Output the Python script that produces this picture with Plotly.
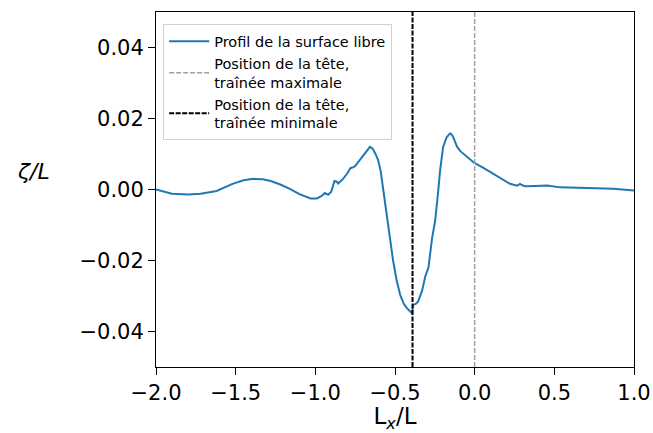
import plotly.graph_objects as go

# free surface profile
lx = [-2.0, -1.95, -1.9, -1.8, -1.72, -1.62, -1.52, -1.45, -1.39, -1.33, -1.28, -1.22,
      -1.16, -1.1, -1.03, -0.99, -0.96, -0.94, -0.92, -0.9, -0.88, -0.865, -0.857,
      -0.84, -0.826, -0.8, -0.78, -0.76, -0.75, -0.73, -0.707, -0.68, -0.657, -0.645,
      -0.638, -0.62, -0.606, -0.59, -0.575, -0.56, -0.544, -0.53, -0.512, -0.49,
      -0.468, -0.445, -0.424, -0.405, -0.393, -0.387, -0.37, -0.355, -0.33, -0.31,
      -0.29, -0.267, -0.248, -0.23, -0.217, -0.198, -0.175, -0.154, -0.145, -0.136,
      -0.11, -0.09, -0.073, -0.04, 0.0, 0.05, 0.115, 0.16, 0.222, 0.266, 0.285,
      0.3, 0.316, 0.38, 0.455, 0.536, 0.64, 0.743, 0.87, 1.0]
zeta = [0.0, -0.0006, -0.0012, -0.0014, -0.0012, -0.0004, 0.0016, 0.0026, 0.003, 0.0029,
        0.0024, 0.0014, 0.0002, -0.0013, -0.0025, -0.0025, -0.0018, -0.001, -0.0015,
        -0.0006, 0.0024, 0.0022, 0.0017, 0.0024, 0.003, 0.0045, 0.006, 0.0063, 0.0066,
        0.0078, 0.0092, 0.0106, 0.012, 0.0117, 0.0113, 0.0098, 0.0083, 0.0052, 0.0007,
        -0.004, -0.0088, -0.0142, -0.02, -0.0255, -0.0296, -0.0322, -0.0335, -0.0343,
        -0.0349, -0.0325, -0.0322, -0.0316, -0.0285, -0.0245, -0.022, -0.0136, -0.0088,
        -0.001, 0.0054, 0.012, 0.0148, 0.0158, 0.0155, 0.0149, 0.012, 0.0108, 0.0102,
        0.009, 0.0074, 0.0062, 0.0045, 0.0033, 0.0016, 0.0011, 0.0016, 0.0012, 0.0009,
        0.001, 0.0011, 0.0006, 0.0005, 0.0004, 0.0002, -0.0003]

pos_max = [0.0, 0.0]
pos_min = [-0.39, -0.39]
y_span = [-0.05, 0.05]

xticks = [-2.0, -1.5, -1.0, -0.5, 0.0, 0.5, 1.0]
xtick_text = ["\u22122.0", "\u22121.5", "\u22121.0", "\u22120.5", "0.0", "0.5", "1.0"]
yticks = [-0.04, -0.02, 0.0, 0.02, 0.04]
ytick_text = ["\u22120.04", "\u22120.02", "0.00", "0.02", "0.04"]

fig = go.Figure()
fig.add_scatter(x=lx, y=zeta, mode="lines", name="Profil de la surface libre",
                line=dict(color="#1f77b4", width=2))
fig.add_scatter(x=pos_max, y=y_span, mode="lines",
                name="Position de la tête,<br>traînée maximale",
                line=dict(color="#a0a0a0", width=1.5, dash="5px,2px"))
fig.add_scatter(x=pos_min, y=y_span, mode="lines",
                name="Position de la tête,<br>traînée minimale",
                line=dict(color="black", width=2, dash="5px,1.5px"))

axis_style = dict(showline=True, linecolor="black", linewidth=1, mirror=True,
                  ticks="outside", ticklen=7, tickcolor="black", showgrid=False,
                  zeroline=False, tickfont=dict(size=21, color="black"))

fig.update_layout(
    width=653, height=433,
    margin=dict(l=156, r=19, t=12, b=66, autoexpand=False),
    paper_bgcolor="white", plot_bgcolor="white",
    font=dict(family="DejaVu Sans", color="black"),
    xaxis=dict(range=[-2.0, 1.0], tickvals=xticks, ticktext=xtick_text,
               title=dict(text="L<sub><i>x</i></sub>/L", font=dict(size=23), standoff=6),
               **axis_style),
    yaxis=dict(range=[-0.05, 0.05], tickvals=yticks, ticktext=ytick_text,
               **axis_style),
    legend=dict(x=0.015, y=0.965, xanchor="left", yanchor="top",
                bgcolor="rgba(255,255,255,0.85)", bordercolor="#d0d0d0",
                borderwidth=1, font=dict(size=14.5), tracegroupgap=0,
                itemwidth=40),
    showlegend=True,
)
fig.add_annotation(text="<i>ζ/L</i>", xref="paper", yref="paper", x=-0.295, y=0.55,
                   xanchor="left", yanchor="middle", showarrow=False,
                   font=dict(size=22, color="black"))

# drop the default body margin so the figure fills the window exactly
fig.write_html("out.html", config={"displayModeBar": False},
               post_script="document.body.style.margin='0';"
                           "document.body.style.overflow='hidden';")
